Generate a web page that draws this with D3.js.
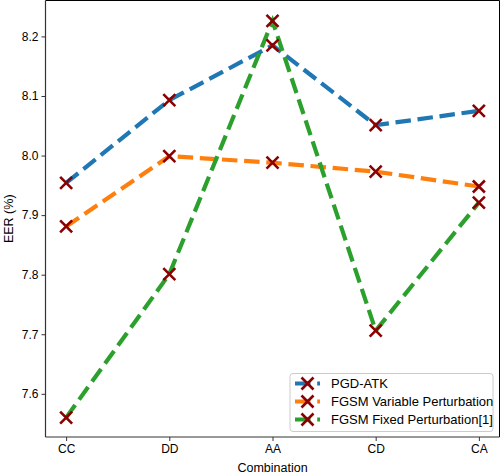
<!DOCTYPE html>
<html><head><meta charset="utf-8">
<script src="https://cdn.jsdelivr.net/npm/d3@7"></script>
<style>body{margin:0;background:#fff}svg{display:block}text{font-family:"Liberation Sans",Arial,sans-serif}</style>
</head><body>
<svg id="c" width="500" height="476"></svg>
<script>
const categories = ["CC","DD","AA","CD","CA"];
const seriesNames = ["PGD-ATK","FGSM Variable Perturbation","FGSM Fixed Perturbation[1]"];
const pgdAtk = [7.954, 8.093, 8.185, 8.051, 8.075];
const fgsmVariable = [7.881, 7.999, 7.988, 7.973, 7.948];
const fgsmFixed = [7.560, 7.801, 8.226, 7.706, 7.921];
const yTicks = [7.6, 7.7, 7.8, 7.9, 8.0, 8.1, 8.2];
const colors = ["#1f77b4","#ff7f0e","#2ca02c"];

const series = [pgdAtk, fgsmVariable, fgsmFixed];
const svg = d3.select("#c");
const L = 45.5, R = 499.5, T = 0.5, B = 437;
const x = d3.scalePoint().domain(categories).range([L, R]).padding(0.2);
// padding for point scale: 0.2 step on each side of 4 steps -> 5% margin of 4.4 width
const y = d3.scaleLinear().domain([7.5275, 8.2603]).range([B, T]);

// frame
svg.append("line").attr("x1",L).attr("x2",R).attr("y1",T).attr("y2",T).attr("stroke","#000").attr("stroke-width",1);
svg.append("line").attr("x1",R).attr("x2",R).attr("y1",T).attr("y2",B).attr("stroke","#000").attr("stroke-width",1);

const ya = svg.append("g").attr("transform",`translate(${L},0)`)
  .call(d3.axisLeft(y).tickValues(yTicks).tickFormat(d3.format(".1f")).tickSize(4).tickPadding(3));
const xa = svg.append("g").attr("transform",`translate(0,${B})`)
  .call(d3.axisBottom(x).tickSize(4).tickPadding(3));
[ya, xa].forEach(g => {
  g.select(".domain").attr("stroke","#333").attr("stroke-width",1.2);
  g.selectAll(".tick line").attr("stroke","#333");
  g.selectAll("text").attr("font-size",12).attr("fill","#000").attr("font-family","'Liberation Sans',Arial,sans-serif");
});
ya.select(".domain").attr("d",`M0,${T}V${B}`);
xa.select(".domain").attr("d",`M${L},0H${R}`);

svg.append("text").attr("x",(L+R)/2).attr("y",472).attr("text-anchor","middle").attr("font-size",12.5).text("Combination");
svg.append("text").attr("transform",`translate(13,${(T+B)/2}) rotate(-90)`).attr("text-anchor","middle").attr("font-size",12.5).text("EER (%)");

const line = d3.line().x((d,i)=>x(categories[i])).y(d=>y(d));
const ms = 6;
function cross(g, cx, cy){
  g.append("path").attr("d",`M${cx-ms},${cy-ms}L${cx+ms},${cy+ms}M${cx-ms},${cy+ms}L${cx+ms},${cy-ms}`)
   .attr("stroke","#8b0000").attr("stroke-width",2.6).attr("fill","none");
}
series.forEach((s,k)=>{
  svg.append("path").datum(s).attr("d",line).attr("fill","none").attr("stroke",colors[k])
    .attr("stroke-width",4.2).attr("stroke-dasharray","15.5,6.7");
});
series.forEach((s,k)=>{
  const g = svg.append("g");
  s.forEach((v,i)=>cross(g, x(categories[i]), y(v)));
});

// legend
const lg = svg.append("g");
lg.append("rect").attr("x",290).attr("y",373.5).attr("width",203).attr("height",58).attr("rx",3)
  .attr("fill","#fff").attr("fill-opacity",0.8).attr("stroke","#ccc");
seriesNames.forEach((n,k)=>{
  const yy = 383.5 + k*18;
  lg.append("line").attr("x1",295).attr("x2",320).attr("y1",yy).attr("y2",yy)
    .attr("stroke",colors[k]).attr("stroke-width",4.2).attr("stroke-dasharray","15.5,6.7");
  cross(lg, 307.5, yy);
  lg.append("text").attr("x",331).attr("y",yy+4.5).attr("font-size",13).text(n);
});
</script>
</body></html>
